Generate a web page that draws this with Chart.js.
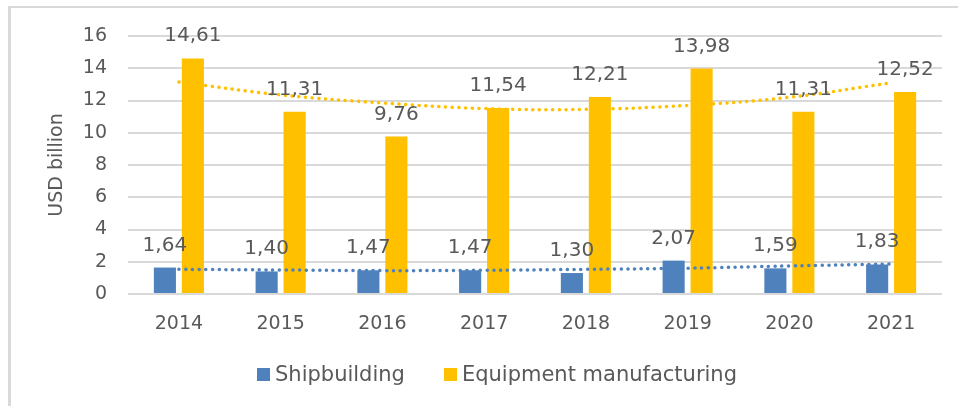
<!DOCTYPE html>
<html>
<head>
<meta charset="utf-8">
<script src="https://cdn.jsdelivr.net/npm/chart.js@4.4.1/dist/chart.umd.min.js"></script>
<style>
    html, body { margin: 0; padding: 0; background: #fff; }
    #wrap { position: relative; width: 958px; height: 406px; overflow: hidden; }
    #frame {
        position: absolute; left: 8px; top: 6px; width: 980px; height: 420px;
        border-left: 3px solid #d9d9d9; border-top: 2px solid #d9d9d9;
    }
    #chart { position: absolute; left: 0; top: 0; }
    #legend {
        position: absolute; left: 257px; top: 362px;
        display: flex; align-items: center;
        font-family: "DejaVu Sans", sans-serif; font-size: 21px; color: #595959;
    }
    .item { display: flex; align-items: center; margin-right: 39px; }
    .box { width: 13px; height: 13px; margin-right: 5px; }
</style>
</head>
<body>
<div id="wrap">
    <div id="frame"></div>
    <canvas id="chart" width="958" height="406"></canvas>
    <div id="legend"></div>
</div>
<script>
const years = ['2014', '2015', '2016', '2017', '2018', '2019', '2020', '2021'];
const shipbuilding = [1.64, 1.40, 1.47, 1.47, 1.30, 2.07, 1.59, 1.83];
const equipment = [14.61, 11.31, 9.76, 11.54, 12.21, 13.98, 11.31, 12.52];
// trend lines
const shipTrend = [1.53, 1.49, 1.45, 1.47, 1.53, 1.60, 1.74, 1.86];
const equipTrend = [13.15, 12.35, 11.85, 11.5, 11.45, 11.7, 12.2, 13.1];

const BLUE = '#4f81bd';
const GOLD = '#ffc000';
const TEXT = '#595959';
const FONT = '"DejaVu Sans", sans-serif';

// подписи значений над столбцами
const barLabels = {
    id: 'barLabels',
    afterDatasetsDraw(chart) {
        const ctx = chart.ctx;
        ctx.save();
        ctx.font = '20px ' + FONT;
        ctx.fillStyle = TEXT;
        ctx.textAlign = 'center';
        ctx.textBaseline = 'alphabetic';
        chart.data.datasets.forEach((ds, i) => {
            if (ds.type === 'line') return;
            chart.getDatasetMeta(i).data.forEach((bar, j) => {
                ctx.fillText(ds.data[j].toFixed(2).replace('.', ','), bar.x, bar.y - 17);
            });
        });
        ctx.restore();
    }
};

const dotted = (color, data) => ({
    type: 'line',
    label: 'trend',
    data: data,
    borderColor: color,
    borderWidth: 3.5,
    borderDash: [0.1, 6.6],
    borderCapStyle: 'round',
    pointRadius: 0,
    tension: 0.4,
    fill: false
});

const chart = new Chart(document.getElementById('chart'), {
    type: 'bar',
    data: {
        labels: years,
        datasets: [
            {label: 'Shipbuilding', data: shipbuilding, backgroundColor: BLUE, order: 2},
            {label: 'Equipment manufacturing', data: equipment, backgroundColor: GOLD, order: 2},
            Object.assign(dotted(BLUE, shipTrend), {order: 1}),
            Object.assign(dotted(GOLD, equipTrend), {order: 1})
        ]
    },
    options: {
        responsive: false,
        animation: false,
        layout: {padding: {left: 0, right: 16, top: 36, bottom: 0}},
        datasets: {bar: {categoryPercentage: 0.55, barPercentage: 0.79}},
        plugins: {legend: {display: false}, tooltip: {enabled: false}},
        scales: {
            x: {
                grid: {display: false},
                border: {display: false},
                ticks: {color: TEXT, font: {family: FONT, size: 19}, padding: 11, maxRotation: 0},
                afterFit: scale => { scale.height = 112; }
            },
            y: {
                min: 0,
                max: 16,
                ticks: {stepSize: 2, color: TEXT, font: {family: FONT, size: 19}, padding: 21},
                grid: {color: '#d9d9d9', lineWidth: 2, drawTicks: false},
                border: {display: false},
                title: {display: true, text: 'USD billion', color: TEXT, font: {family: FONT, size: 19}, padding: {top: 46}},
                afterFit: scale => { scale.width = 128; }
            }
        }
    },
    plugins: [barLabels]
});

// легенда только для столбцов
const legend = document.getElementById('legend');
chart.data.datasets.filter(ds => ds.type !== 'line').forEach(ds => {
    const item = document.createElement('div');
    item.className = 'item';
    const box = document.createElement('div');
    box.className = 'box';
    box.style.backgroundColor = ds.backgroundColor;
    const name = document.createElement('span');
    name.textContent = ds.label;
    item.appendChild(box);
    item.appendChild(name);
    legend.appendChild(item);
});
</script>
</body>
</html>
